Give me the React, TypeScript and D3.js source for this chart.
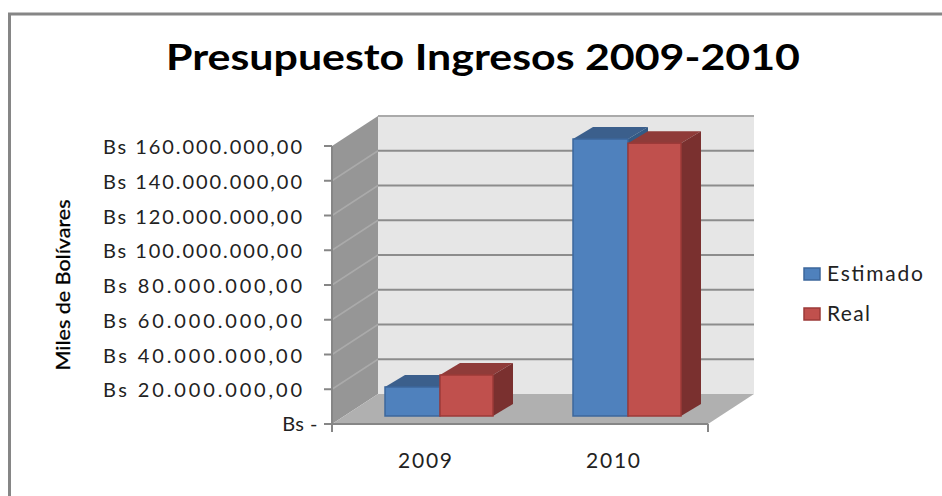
import React from "react";
import * as d3 from "d3";

const years = ["2009", "2010"];
const estimado = [16700000, 159400000];
const real = [23600000, 157000000];
const tickValues = [0, 20000000, 40000000, 60000000, 80000000, 100000000, 120000000, 140000000, 160000000];
const legendItems = ["Estimado", "Real"];

const width = 942;
const height = 496;
const font = "Lato, 'Open Sans', sans-serif";

// oblique offset of the back wall against the front plane
const depthX = 46;
const depthY = 30;
const left = 332;
const right = 708;
const bottom = 424;
const top = 146;

const y = d3.scaleLinear().domain([0, 160000000]).range([bottom, top]);
const x = d3.scaleBand().domain(years).range([left, right]);
const formatTick = (v: number) => {
  if (v === 0) return "Bs -";
  return "Bs " + d3.format(",.2f")(v).replace(/,/g, "#").replace(".", ",").replace(/#/g, ".");
};

const colors = {
  Estimado: { front: "#4f81bd", top: "#3b5f8c", side: "#335a85", edge: "#3c679c" },
  Real: { front: "#c0504d", top: "#8f3b39", side: "#7a302f", edge: "#9c3a38" },
};

const pts = (p: number[][]) => p.map((d) => d.join(",")).join(" ");

function Bar({ cx, w, value, name }: { cx: number; w: number; value: number; name: "Estimado" | "Real" }) {
  // bars stand in the middle of the floor
  const base = y(0) - 8;
  const t = y(value) - 8;
  const dx = 20;
  const dy = 12;
  const c = colors[name];
  const x1 = cx + w;
  return (
    <g>
      <polygon points={pts([[cx, t], [cx + dx, t - dy], [x1 + dx, t - dy], [x1, t]])} fill={c.top} />
      <polygon points={pts([[x1, t], [x1 + dx, t - dy], [x1 + dx, base - dy], [x1, base]])} fill={c.side} />
      <rect x={cx} y={t} width={w} height={base - t} fill={c.front} stroke={c.edge} strokeWidth={1.5} />
    </g>
  );
}

export default function App() {
  const bandPad = 53;
  const blueW = 55;
  const redW = 53;
  return (
    <svg width={width} height={height} style={{ position: "absolute", left: 0, top: 0, background: "#fff" }}>
      <path d={`M9.5,${height} V14 H${width}`} fill="none" stroke="#868686" strokeWidth={3} />
      <text x={483} y={70} textAnchor="middle" fontFamily={font} fontWeight={700} fontSize={36} textLength={634} lengthAdjust="spacingAndGlyphs" fill="#000">
        Presupuesto Ingresos 2009-2010
      </text>

      {/* walls and floor */}
      <rect x={left + depthX} y={top - depthY} width={right - left} height={bottom - top} fill="#e6e6e6" />
      <polygon points={pts([[left, bottom], [left, top], [left + depthX, top - depthY], [left + depthX, bottom - depthY]])} fill="#969696" />
      <polygon points={pts([[left, bottom], [right, bottom], [right + depthX, bottom - depthY], [left + depthX, bottom - depthY]])} fill="#b0b0b0" />

      {tickValues.map((v) => (
        <g key={v}>
          {v > 0 && (
            <line
              x1={left + depthX}
              x2={right + depthX}
              y1={y(v) - depthY}
              y2={y(v) - depthY}
              stroke={v === 160000000 ? "#aaaaaa" : "#8c8c8c"}
              strokeWidth={2}
            />
          )}
          {v > 0 && v < 160000000 && <line x1={left} x2={left + depthX} y1={y(v)} y2={y(v) - depthY} stroke="#aaaaaa" strokeWidth={1.5} />}
          <line x1={left - 8} x2={left} y1={y(v)} y2={y(v)} stroke="#868686" strokeWidth={2} />
          {v === 0 ? (
            <text x={318} y={y(v) + 7} textAnchor="end" fontFamily={font} fontSize={20} letterSpacing={0.5} fill="#222">
              {formatTick(v)}
            </text>
          ) : (
            <text x={103} y={y(v) + 8} fontFamily={font} fontSize={20} textLength={199} lengthAdjust="spacing" fill="#222">
              {formatTick(v)}
            </text>
          )}
        </g>
      ))}
      <line x1={left} x2={left} y1={top} y2={bottom + 8} stroke="#868686" strokeWidth={2} />
      <line x1={left} x2={right} y1={bottom} y2={bottom} stroke="#868686" strokeWidth={2} />
      <line x1={right} x2={right} y1={bottom} y2={bottom + 8} stroke="#868686" strokeWidth={2} />

      {years.map((yr, i) => {
        const bx = x(yr)! + bandPad;
        return (
          <g key={yr}>
            <Bar cx={bx} w={blueW} value={estimado[i]} name="Estimado" />
            <Bar cx={bx + blueW} w={redW} value={real[i]} name="Real" />
            <text x={x(yr)! + x.bandwidth() / 2 - 1} y={468} textAnchor="middle" fontFamily={font} fontSize={21} textLength={54} lengthAdjust="spacing" fill="#222">
              {yr}
            </text>
          </g>
        );
      })}

      <text transform="translate(70,285) rotate(-90)" textAnchor="middle" fontFamily={font} fontSize={20} textLength={171} lengthAdjust="spacingAndGlyphs" fill="#000" stroke="#000" strokeWidth={0.3}>
        Miles de Bolívares
      </text>

      {legendItems.map((name, i) => {
        const c = colors[name as "Estimado" | "Real"];
        const ly = 274 + i * 40;
        return (
          <g key={name}>
            <rect x={804} y={ly - 6} width={16} height={12} fill={c.front} stroke={c.edge} strokeWidth={1.5} />
            <text x={827} y={ly + 7} fontFamily={font} fontSize={21} textLength={i === 0 ? 96 : 43} lengthAdjust="spacing" fill="#222">
              {name}
            </text>
          </g>
        );
      })}
    </svg>
  );
}
